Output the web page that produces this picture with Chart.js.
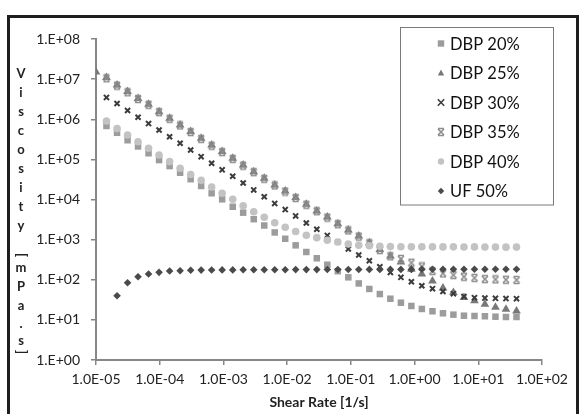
<!DOCTYPE html>
<html>
<head>
<meta charset="utf-8">
<script src="https://cdn.jsdelivr.net/npm/chart.js@4.4.1/dist/chart.umd.min.js"></script>
<style>
  html, body { margin: 0; padding: 0; background: #fff; overflow: hidden; }
  #wrap { position: relative; width: 580px; height: 414px; }
  #frame { position: absolute; left: 7px; top: 15px; width: 566px; height: 430px; border: 3px solid #1e1e1e; pointer-events: none; }
</style>
</head>
<body>
<div id="wrap">
  <canvas id="viscosityGraph" width="580" height="414"></canvas>
  <div id="frame"></div>
</div>
<script>
// shear rate [1/s]
const shearRate = [1.00e-5, 1.46e-5, 2.14e-5, 3.13e-5, 4.57e-5, 6.68e-5, 9.77e-5, 1.43e-4, 2.09e-4, 3.06e-4,
    4.47e-4, 6.53e-4, 9.55e-4, 1.40e-3, 2.04e-3, 2.99e-3, 4.37e-3, 6.38e-3, 9.33e-3, 1.36e-2,
    2.00e-2, 2.92e-2, 4.27e-2, 6.24e-2, 9.12e-2, 0.133, 0.195, 0.285, 0.417, 0.610,
    0.891, 1.30, 1.91, 2.79, 4.07, 5.96, 8.71, 12.7, 18.6, 27.2, 39.8];

// viscosity [mPa.s]
const dbp20 = [null, 6.8e5, 4.6e5, 3.0e5, 2.1e5, 1.42e5, 9.6e4, 6.8e4, 4.65e4, 3.2e4,
    2.17e4, 1.43e4, 1.01e4, 6.6e3, 4.7e3, 3.23e3, 2.25e3, 1.51e3, 1.05e3, 720,
    492, 343, 237, 163, 115, 81, 59, 44, 33.7, 26.8,
    22.2, 18.7, 16.4, 14.6, 13.5, 12.7, 12.5, 12.3, 12.0, 11.8, 11.8];
const dbp25 = [1.5e7, 1.09e7, 7.1e6, 4.9e6, 3.3e6, 2.36e6, 1.54e6, 1.06e6, 7.2e5, 4.95e5,
    3.35e5, 2.28e5, 1.57e5, 1.06e5, 7.2e4, 4.9e4, 3.4e4, 2.3e4, 1.63e4, 1.12e4,
    7.6e3, 5.2e3, 3.66e3, 2.49e3, 1.74e3, 1.23e3, 840, 567, 391, 277,
    182, 139, 93, 62, 48, 36, 30, 24.4, 20.6, 18.4, 16.6];
const dbp30 = [null, 3.5e6, 2.47e6, 1.65e6, 1.12e6, 7.8e5, 5.4e5, 3.67e5, 2.52e5, 1.71e5,
    1.17e5, 8.0e4, 5.5e4, 3.8e4, 2.58e4, 1.73e4, 1.17e4, 8.0e3, 5.6e3, 3.9e3,
    2.6e3, 1.81e3, 1.27e3, 873, 584, 414, 298, 210, 152, 115,
    89, 71, 60, 51, 45, 38, 35.7, 35, 34.5, 34, 33.7];
const dbp35 = [null, 1.05e7, 6.9e6, 4.7e6, 3.2e6, 2.3e6, 1.5e6, 1.03e6, 7.0e5, 4.8e5,
    3.25e5, 2.2e5, 1.52e5, 1.03e5, 7.0e4, 4.8e4, 3.3e4, 2.24e4, 1.58e4, 1.09e4,
    7.4e3, 5.1e3, 3.55e3, 2.42e3, 1.69e3, 1.19e3, 815, 550, 385, 330,
    266, 214, 165, 144, 131, 119, 111, 104, 102, 100, 98.6];
const dbp40 = [null, 9.0e5, 5.9e5, 4.05e5, 2.75e5, 1.89e5, 1.29e5, 8.8e4, 6.0e4, 4.2e4,
    3.0e4, 2.05e4, 1.43e4, 1.01e4, 7.0e3, 4.96e3, 3.6e3, 2.64e3, 2.03e3, 1.59e3,
    1.29e3, 1.12e3, 962, 873, 778, 722, 706, 680, 670, 665,
    660, 662, 660, 658, 660, 655, 658, 655, 652, 650, 652];
const uf50 = [null, null, 40, 84, 119, 139, 153, 165, 168, 172,
    174, 175, 176, 176, 177, 177, 178, 178, 178, 179,
    179, 179, 180, 180, 180, 180, 181, 181, 181, 181,
    181, 182, 182, 182, 182, 182, 182, 182, 182, 182, 182];

const seriesLabels = ['DBP 20%', 'DBP 25%', 'DBP 30%', 'DBP 35%', 'DBP 40%', 'UF 50%'];

const xTickValues = [1e-5, 1e-4, 1e-3, 1e-2, 1e-1, 1e0, 1e1, 1e2];
const xTickLabels = ['1.0E-05', '1.0E-04', '1.0E-03', '1.0E-02', '1.0E-01', '1.0E+00', '1.0E+01', '1.0E+02'];
const yTickValues = [1e0, 1e1, 1e2, 1e3, 1e4, 1e5, 1e6, 1e7, 1e8];
const yTickLabels = ['1.E+00', '1.E+01', '1.E+02', '1.E+03', '1.E+04', '1.E+05', '1.E+06', '1.E+07', '1.E+08'];

const xTitle = 'Shear Rate [1/s]';
const yTitle = 'Viscosity [mPa.s]';

// excel style "star" marker
function starMarker(color) {
    const c = document.createElement('canvas');
    c.width = 10; c.height = 10;
    const g = c.getContext('2d');
    g.strokeStyle = color;
    g.lineWidth = 1.6;
    g.beginPath();
    g.moveTo(2, 2); g.lineTo(8, 8);
    g.moveTo(8, 2); g.lineTo(2, 8);
    g.moveTo(2, 1.5); g.lineTo(8, 1.5);
    g.moveTo(2, 8.5); g.lineTo(8, 8.5);
    g.stroke();
    return c;
}

function toPoints(values) {
    const pts = [];
    values.forEach((v, i) => { if (v !== null) pts.push({x: shearRate[i], y: v}); });
    return pts;
}

const styles = [
    {pointStyle: 'rect', radius: 4.6, color: '#9c9c9c', bw: 0},
    {pointStyle: 'triangle', radius: 5, color: '#787878', bw: 0},
    {pointStyle: 'crossRot', radius: 3.6, color: '#3c3c3c', bw: 2},
    {pointStyle: starMarker('#8e8e8e'), radius: 4, color: '#8e8e8e', bw: 0},
    {pointStyle: 'circle', radius: 3.8, color: '#c3c3c3', bw: 0},
    {pointStyle: 'rectRot', radius: 3.8, color: '#4a4a4a', bw: 0}
];

const allSeries = [dbp20, dbp25, dbp30, dbp35, dbp40, uf50];

const datasets = allSeries.map((s, k) => ({
    label: seriesLabels[k],
    data: toPoints(s),
    pointStyle: styles[k].pointStyle,
    pointRadius: styles[k].radius,
    backgroundColor: styles[k].color,
    borderColor: styles[k].color,
    borderWidth: styles[k].bw,
    showLine: false,
    order: allSeries.length - k
}));

function drawMarker(ctx, st, x, y, r) {
    ctx.save();
    ctx.fillStyle = st.color;
    ctx.strokeStyle = st.color;
    if (typeof st.pointStyle !== 'string') {
        ctx.drawImage(st.pointStyle, x - 5, y - 5);
        ctx.restore();
        return;
    }
    ctx.beginPath();
    if (st.pointStyle === 'rect') {
        ctx.rect(x - r, y - r, 2 * r, 2 * r);
        ctx.fill();
    } else if (st.pointStyle === 'triangle') {
        ctx.moveTo(x, y - r * 1.1);
        ctx.lineTo(x + r, y + r * 0.75);
        ctx.lineTo(x - r, y + r * 0.75);
        ctx.closePath();
        ctx.fill();
    } else if (st.pointStyle === 'crossRot') {
        ctx.lineWidth = 1.6;
        ctx.moveTo(x - r, y - r); ctx.lineTo(x + r, y + r);
        ctx.moveTo(x + r, y - r); ctx.lineTo(x - r, y + r);
        ctx.stroke();
    } else if (st.pointStyle === 'circle') {
        ctx.arc(x, y, r, 0, Math.PI * 2);
        ctx.fill();
    } else {
        ctx.moveTo(x, y - r); ctx.lineTo(x + r, y);
        ctx.lineTo(x, y + r); ctx.lineTo(x - r, y);
        ctx.closePath();
        ctx.fill();
    }
    ctx.restore();
}

const boxLegend = {
    id: 'boxLegend',
    afterDraw(chart) {
        const ctx = chart.ctx;
        ctx.save();
        ctx.strokeStyle = '#7a7a7a';
        ctx.lineWidth = 1;
        ctx.fillStyle = '#fff';
        ctx.fillRect(400.5, 27.5, 153, 177.5);
        ctx.strokeRect(400.5, 27.5, 153, 177.5);
        ctx.font = '16.5px Lato';
        ctx.textBaseline = 'middle';
        ctx.textAlign = 'left';
        seriesLabels.forEach((lab, i) => {
            const y = 43.5 + i * 29.5;
            drawMarker(ctx, styles[i], 441, y, 3.2);
            ctx.fillStyle = '#111';
            ctx.fillText(lab, 450, y + 1);
        });
        ctx.restore();
    }
};

// stacked y axis title like excel
const stackedTitle = {
    id: 'stackedTitle',
    afterDraw(chart) {
        const ctx = chart.ctx;
        const ys = [74, 93, 112, 131, 150, 169, 188, 207, 226, 255, 268, 287, 306, 324, 341, 352];
        const chars = yTitle.replace(' ', '').split('');
        ctx.save();
        ctx.font = 'bold 13px Lato';
        ctx.fillStyle = '#222';
        ctx.textAlign = 'center';
        ctx.textBaseline = 'middle';
        chars.forEach((ch, i) => {
            if (ch === '[' || ch === ']') {
                ctx.save();
                ctx.translate(21, ys[i]);
                ctx.rotate(Math.PI / 2);
                ctx.fillText(ch, 0, 0);
                ctx.restore();
            } else {
                ctx.fillText(ch, 21, ys[i]);
            }
        });
        ctx.restore();
    }
};

const axisColor = '#878787';

const config = {
    type: 'scatter',
    data: {datasets: datasets},
    options: {
        responsive: false,
        animation: false,
        devicePixelRatio: 1,
        layout: {padding: {left: 0, right: 38, top: 39, bottom: 0}},
        plugins: {
            legend: {display: false},
            tooltip: {enabled: false}
        },
        scales: {
            x: {
                type: 'logarithmic',
                position: 'bottom',
                min: 1e-5,
                max: 1e2,
                border: {color: axisColor, width: 2},
                grid: {drawOnChartArea: false, drawTicks: true, tickLength: 5, color: axisColor, lineWidth: 1.5},
                ticks: {
                    autoSkip: false,
                    maxRotation: 0,
                    padding: 6,
                    color: '#222',
                    font: {family: 'Lato', size: 14},
                    callback: v => xTickLabels[xTickValues.indexOf(v)]
                },
                afterBuildTicks: s => { s.ticks = xTickValues.map(v => ({value: v})); },
                afterFit: s => { s.height = 54; },
                title: {
                    display: true,
                    text: xTitle,
                    color: '#222',
                    font: {family: 'Lato', size: 14, weight: 'bold'},
                    padding: {top: 0, bottom: 3}
                }
            },
            y: {
                type: 'logarithmic',
                position: 'left',
                min: 1e0,
                max: 1e8,
                border: {color: axisColor, width: 2},
                grid: {drawOnChartArea: false, drawTicks: true, tickLength: 5, color: axisColor, lineWidth: 1.5},
                ticks: {
                    autoSkip: false,
                    padding: 11,
                    color: '#222',
                    font: {family: 'Lato', size: 14},
                    callback: v => yTickLabels[yTickValues.indexOf(v)]
                },
                afterBuildTicks: s => { s.ticks = yTickValues.map(v => ({value: v})); },
                afterFit: s => { s.width = 96; }
            }
        }
    },
    plugins: [stackedTitle, boxLegend]
};

const myChart = new Chart(document.getElementById('viscosityGraph'), config);
</script>
</body>
</html>
